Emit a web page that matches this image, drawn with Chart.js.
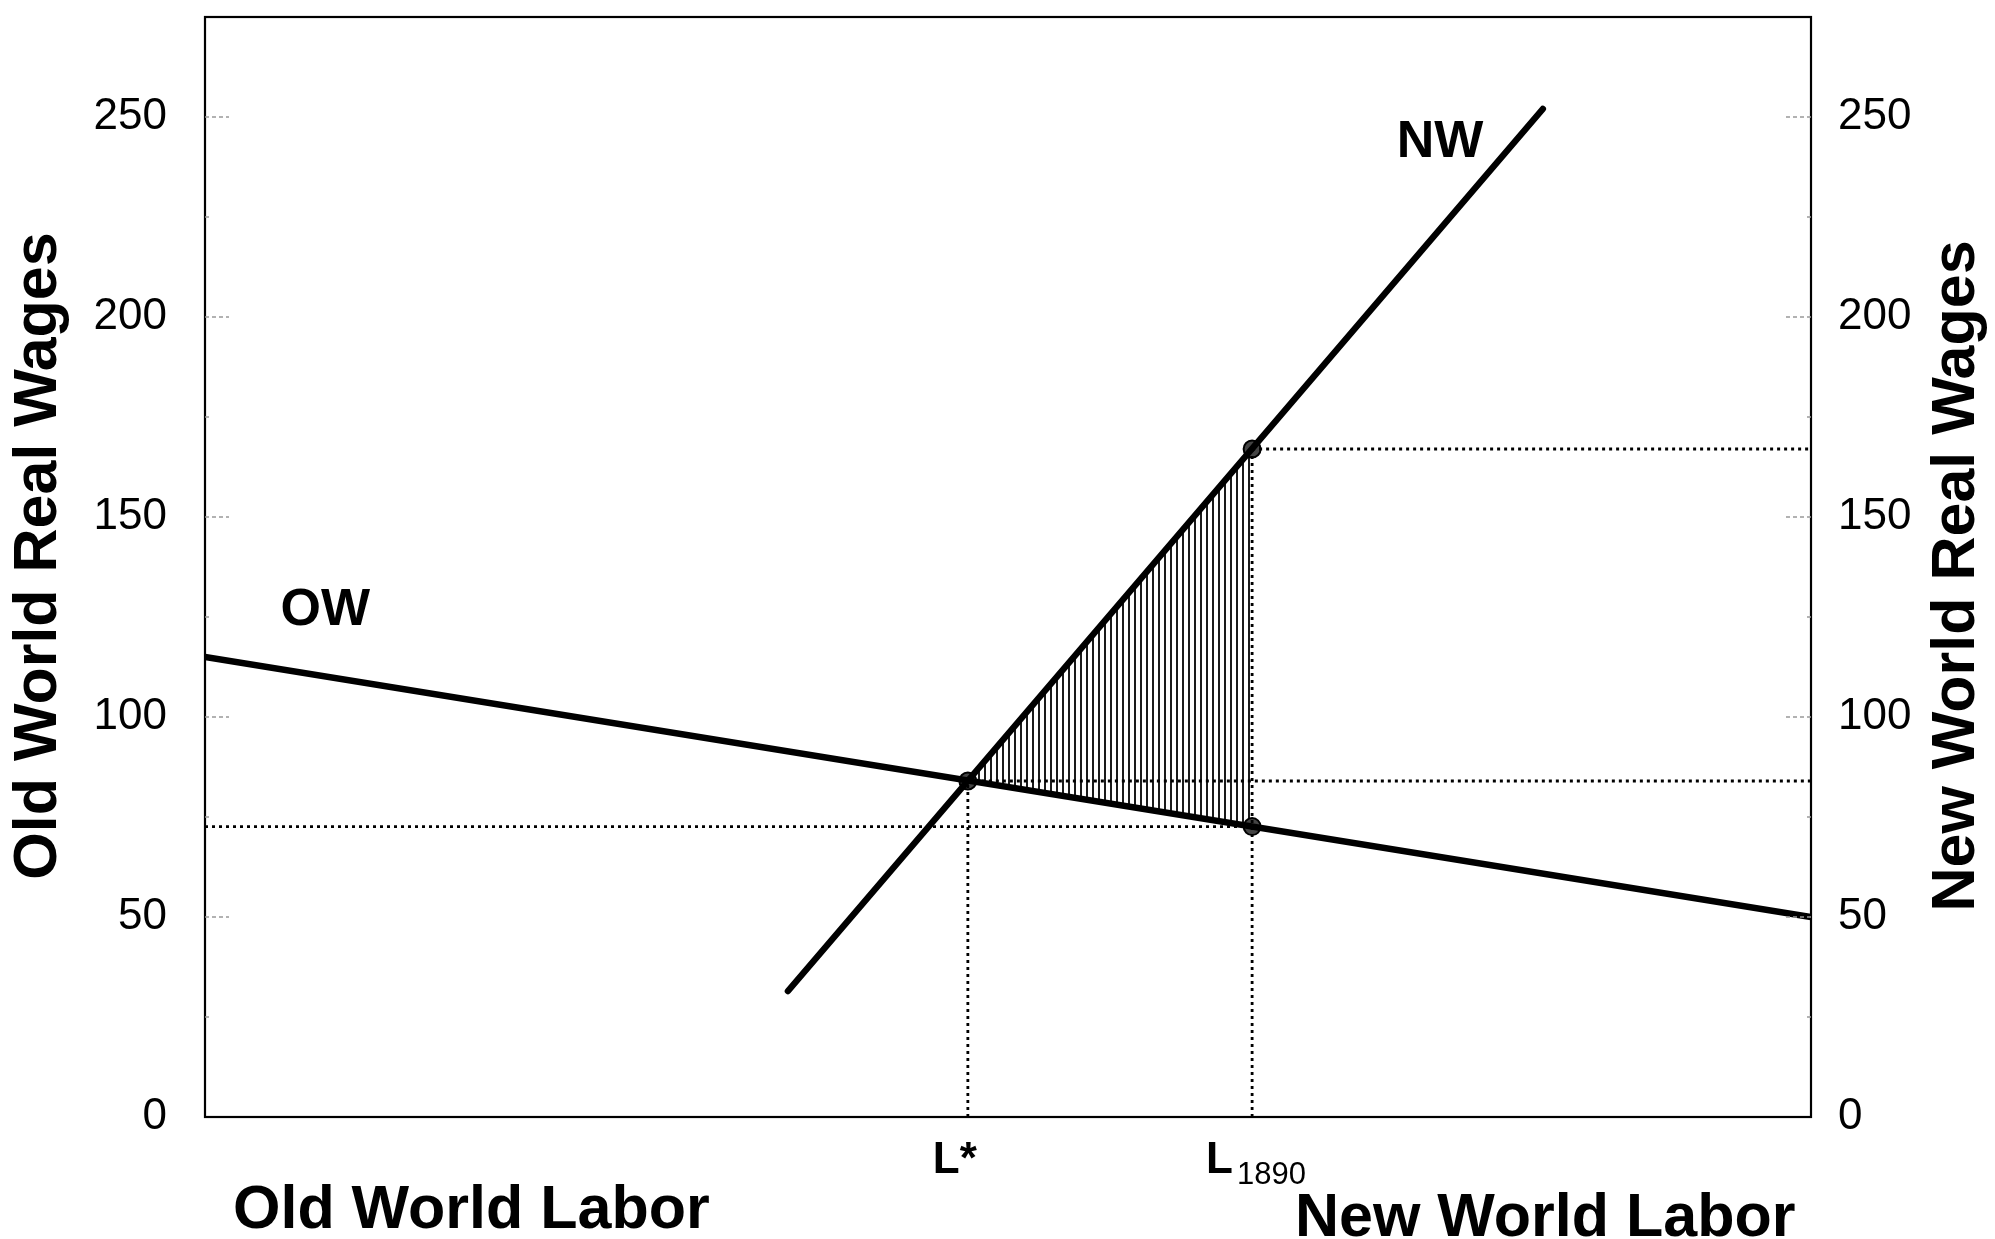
<!DOCTYPE html>
<html>
<head>
<meta charset="utf-8">
<script src="https://cdn.jsdelivr.net/npm/chart.js@4.4.0/dist/chart.umd.min.js"></script>
<style>
  html, body { margin: 0; padding: 0; background: #fff; }
  #wrap { width: 1995px; height: 1239px; }
</style>
</head>
<body>
<div id="wrap"><canvas id="c" width="1995" height="1239"></canvas></div>
<script>
// 数据：两条工资曲线与关键劳动量
const owLabor = [0, 100];
const owWage = [115, 50];
const nwLabor = [36.3, 83.3];
const nwWage = [31.5, 252];
const keyLabor = [47.5, 65.2];          // L*, L1890
const keyNames = ['L*', 'L'];
const keySubs = ['', '1890'];
const eqWage = 84;                      // L* 处的均衡工资
const nwWage1890 = 167;                 // 1890 年新大陆工资
const owWage1890 = 72.6;                // 1890 年旧大陆工资
const yTicks = [0, 50, 100, 150, 200, 250];
const yMinor = [25, 75, 125, 175, 225];

const FONT = "'Liberation Sans', Arial, sans-serif";
Chart.defaults.font.family = FONT;
Chart.defaults.color = '#000';

const pts = (xs, ys) => xs.map((x, i) => ({ x: x, y: ys[i] }));

// 竖线阴影填充
function makeHatch() {
  const c = document.createElement('canvas');
  c.width = 6; c.height = 8;
  const g = c.getContext('2d');
  g.fillStyle = '#1a1a1a';
  g.fillRect(0, 0, 2, 8);
  return document.getElementById('c').getContext('2d').createPattern(c, 'repeat');
}

const dotted = (data) => ({
  data: data,
  borderColor: '#000',
  borderWidth: 2.8,
  borderDash: [3, 4],
  pointRadius: 0,
  fill: false
});

const solid = (data) => ({
  data: data,
  borderColor: '#000',
  borderWidth: 6.5,
  borderCapStyle: 'round',
  pointRadius: 0,
  fill: false
});

// 边框 + 内侧刻度
const framePlugin = {
  id: 'frame',
  afterDatasetsDraw(chart) {
    const { ctx, chartArea: { left, right, top, bottom }, scales: { y, y2 } } = chart;
    ctx.save();
    ctx.strokeStyle = '#000';
    ctx.lineWidth = 2.2;
    ctx.strokeRect(left, top, right - left, bottom - top);

    ctx.strokeStyle = '#999';
    ctx.lineWidth = 1.5;
    ctx.setLineDash([4, 3]);
    yTicks.filter(v => v > 0).forEach(v => {
      const p1 = y.getPixelForValue(v);
      const p2 = y2.getPixelForValue(v);
      ctx.beginPath();
      ctx.moveTo(left, p1); ctx.lineTo(left + 24, p1);
      ctx.moveTo(right, p2); ctx.lineTo(right - 26, p2);
      ctx.stroke();
    });
    ctx.setLineDash([]);
    yMinor.forEach(v => {
      const p1 = y.getPixelForValue(v);
      const p2 = y2.getPixelForValue(v);
      ctx.beginPath();
      ctx.moveTo(left, p1); ctx.lineTo(left + 4, p1);
      ctx.moveTo(right, p2); ctx.lineTo(right - 4, p2);
      ctx.stroke();
    });
    ctx.restore();
  }
};

// 文字标注
const textPlugin = {
  id: 'texts',
  afterDraw(chart) {
    const { ctx, chartArea: { bottom }, scales: { x, y } } = chart;
    ctx.save();
    ctx.fillStyle = '#000';
    ctx.textBaseline = 'alphabetic';
    ctx.textAlign = 'left';

    // 曲线名称
    ctx.font = 'bold 52px ' + FONT;
    ctx.fillText('OW', x.getPixelForValue(4.7), y.getPixelForValue(123));
    ctx.fillText('NW', x.getPixelForValue(74.2), y.getPixelForValue(240));

    // L* 与 L1890
    keyLabor.forEach((k, i) => {
      const px = x.getPixelForValue(k);
      ctx.font = 'bold 44px ' + FONT;
      const left = keySubs[i] ? px - 46 : px - 35;
      ctx.fillText(keyNames[i], left, bottom + 56);
      if (keySubs[i]) {
        const w = ctx.measureText(keyNames[i]).width;
        ctx.font = '31px ' + FONT;
        ctx.fillText(keySubs[i], left + w + 4, bottom + 67);
      }
    });

    // 坐标轴标题
    ctx.font = 'bold 61px ' + FONT;
    ctx.fillText('Old World Labor', 233, 1228);
    ctx.fillText('New World Labor', 1295, 1236);

    ctx.textAlign = 'center';
    ctx.textBaseline = 'middle';
    [[39, 556, 'Old World Real Wages'], [1957, 576, 'New World Real Wages']].forEach(t => {
      ctx.save();
      ctx.translate(t[0], t[1]);
      ctx.rotate(-Math.PI / 2);
      ctx.fillText(t[2], 0, 0);
      ctx.restore();
    });
    ctx.restore();
  }
};

const yAxis = (position, padding, width) => ({
  type: 'linear',
  position: position,
  min: 0,
  max: 275,
  afterBuildTicks: s => { s.ticks = yTicks.map(v => ({ value: v })); },
  afterFit: s => { s.width = width; s.paddingTop = 0; s.paddingBottom = 0; },
  ticks: { font: { size: 44 }, color: '#000', padding: padding },
  grid: { display: false, drawTicks: false },
  border: { display: false }
});

new Chart(document.getElementById('c'), {
  type: 'line',
  data: {
    datasets: [
      solid(pts(owLabor, owWage)),
      solid(pts(nwLabor, nwWage)),
      dotted([{ x: 0, y: owWage1890 }, { x: keyLabor[1], y: owWage1890 }]),
      dotted([{ x: keyLabor[0], y: eqWage }, { x: 100, y: eqWage }]),
      dotted([{ x: keyLabor[1], y: nwWage1890 }, { x: 100, y: nwWage1890 }]),
      dotted([{ x: keyLabor[0], y: 0 }, { x: keyLabor[0], y: eqWage }]),
      dotted([{ x: keyLabor[1], y: 0 }, { x: keyLabor[1], y: nwWage1890 }]),
      {
        data: [{ x: keyLabor[0], y: eqWage }, { x: keyLabor[1], y: nwWage1890 }, { x: keyLabor[1], y: owWage1890 }],
        showLine: false,
        pointRadius: 8.5,
        pointBackgroundColor: '#444',
        pointBorderColor: '#000',
        pointBorderWidth: 2
      },
      {
        // 阴影区域上沿 (NW)
        data: [{ x: keyLabor[0], y: eqWage }, { x: keyLabor[1], y: nwWage1890 }],
        borderWidth: 0,
        pointRadius: 0,
        fill: '+1',
        backgroundColor: makeHatch()
      },
      {
        // 阴影区域下沿 (OW)
        data: [{ x: keyLabor[0], y: eqWage }, { x: keyLabor[1], y: owWage1890 }],
        borderWidth: 0,
        pointRadius: 0,
        fill: false
      }
    ]
  },
  plugins: [framePlugin, textPlugin],
  options: {
    responsive: false,
    animation: false,
    layout: { padding: { top: 17, bottom: 122, left: 0, right: 0 } },
    elements: { line: { tension: 0 } },
    plugins: {
      legend: { display: false },
      tooltip: { enabled: false }
    },
    scales: {
      x: { type: 'linear', min: 0, max: 100, display: false },
      y: yAxis('left', 38, 205),
      y2: yAxis('right', 27, 184)
    }
  }
});
</script>
</body>
</html>
